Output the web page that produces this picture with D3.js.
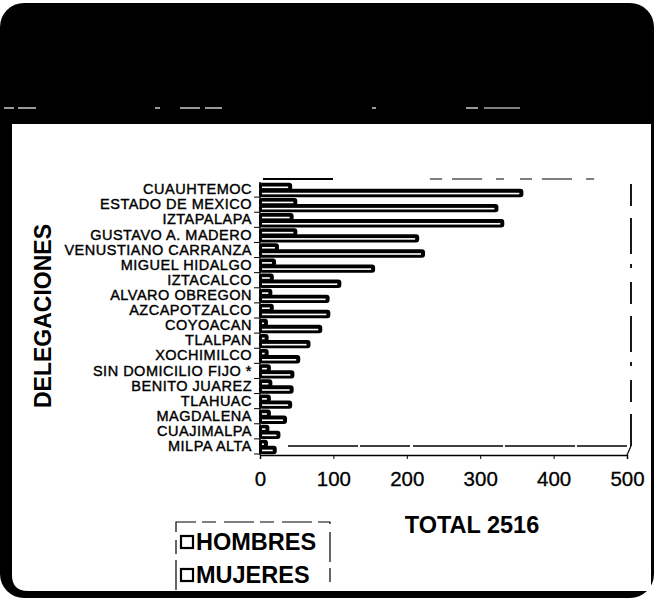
<!DOCTYPE html>
<html>
<head>
<meta charset="utf-8">
<script src="https://cdn.jsdelivr.net/npm/d3@7"></script>
<style>
  body { margin: 0; background: #fff; }
  svg { display: block; }
  text { font-family: "Liberation Sans", Arial, sans-serif; }
</style>
</head>
<body>
<svg id="chart" width="654" height="600"></svg>
<script>
// Casos por delegación, separados por sexo
const delegaciones = [
  "CUAUHTEMOC", "ESTADO DE MEXICO", "IZTAPALAPA", "GUSTAVO A. MADERO",
  "VENUSTIANO CARRANZA", "MIGUEL HIDALGO", "IZTACALCO", "ALVARO OBREGON",
  "AZCAPOTZALCO", "COYOACAN", "TLALPAN", "XOCHIMILCO", "SIN DOMICILIO FIJO *",
  "BENITO JUAREZ", "TLAHUAC", "MAGDALENA", "CUAJIMALPA", "MILPA ALTA"
];
const hombres = [352, 318, 326, 210, 218, 150, 104, 88, 89, 78, 62, 48, 40, 39, 37, 30, 21, 16];
const mujeres = [37, 44, 39, 44, 19, 15, 12, 10, 12, 4, 5, 5, 8, 10, 8, 8, 6, 4];
const series = ["HOMBRES", "MUJERES"];
const xTicks = [0, 100, 200, 300, 400, 500];
const totalLabel = "TOTAL 2516";
const yTitle = "DELEGACIONES";

const svg = d3.select("#chart");

// ---- marco: banda negra superior y borde redondeado ----
svg.append("rect")
  .attr("x", 0).attr("y", 3).attr("width", 654).attr("height", 595)
  .attr("rx", 24).attr("fill", "#000");
svg.append("path")
  .attr("d", "M12,124 H651 V591 H28 Q12,591 12,575 Z")
  .attr("fill", "#fff");
// líneas claras dentro de la banda negra
const streaks = [[4, 14], [18, 36], [155, 160], [180, 200], [205, 222], [466, 478], [484, 520], [372, 376]];
svg.append("g").selectAll("line").data(streaks).join("line")
  .attr("x1", d => d[0]).attr("x2", d => d[1])
  .attr("y1", 108).attr("y2", 108)
  .attr("stroke", "#fff").attr("stroke-width", 1.2);

// ---- escalas ----
const x = d3.scaleLinear().domain([0, 500]).range([260, 627]);
const y = d3.scaleBand().domain(delegaciones).range([182, 454]).paddingInner(0).paddingOuter(0);
const depth = 5;

// ---- paredes del gráfico 3D ----
const frame = svg.append("g").attr("fill", "none").attr("stroke", "#000");
frame.append("line").attr("x1", 263).attr("x2", 333).attr("y1", 179).attr("y2", 179).attr("stroke-width", 2);
frame.append("line").attr("x1", 430).attr("x2", 602).attr("y1", 179).attr("y2", 179)
  .attr("stroke-width", 1.2).attr("stroke-dasharray", "12 10 30 14 8 16");
frame.append("line").attr("x1", 631).attr("x2", 631).attr("y1", 184).attr("y2", 446)
  .attr("stroke-width", 1.8).attr("stroke-dasharray", "22 12 36 10 4 14");
frame.append("line").attr("x1", 288).attr("x2", 631).attr("y1", 446).attr("y2", 446)
  .attr("stroke-width", 1.5).attr("stroke-dasharray", "70 2 50 3 90 2");
frame.append("line").attr("x1", x(500)).attr("x2", 631).attr("y1", 455).attr("y2", 446).attr("stroke-width", 1.2);
frame.append("line").attr("x1", x(0)).attr("x2", x(0)).attr("y1", 182).attr("y2", 455).attr("stroke-width", 1.5);

// ---- barras ----
const rows = delegaciones.map((d, i) => ({ name: d, h: hombres[i], m: mujeres[i] }));
const bars = svg.append("g");
rows.forEach(r => {
  const c = y(r.name) + y.bandwidth() / 2;
  const specs = [
    { v: r.m, top: c - 5.5, h: 5.5 },   // MUJERES
    { v: r.h, top: c + 0.5, h: 6 }      // HOMBRES
  ];
  specs.forEach(s => {
    const x0 = x(0), x1 = x(s.v);
    bars.append("rect")
      .attr("x", x0 - 1).attr("y", s.top - 1.2)
      .attr("width", x1 - x0 + depth + 1).attr("height", s.h + 2.4)
      .attr("rx", 3).attr("fill", "#000");
    bars.append("rect")
      .attr("x", x0 + 2).attr("y", s.top + s.h * 0.45)
      .attr("width", Math.max(0, x1 - x0 - 1)).attr("height", 1.6)
      .attr("fill", "#fff");
  });
});

// ---- eje de valores ----
const xAxis = svg.append("g")
  .attr("transform", "translate(0,455)")
  .call(d3.axisBottom(x).tickValues(xTicks).tickSize(4).tickPadding(12).tickFormat(d3.format("d")));
xAxis.select(".domain").attr("stroke-width", 1.5);
xAxis.selectAll("text")
  .attr("font-size", 20.5).attr("fill", "#000")
  .attr("stroke", "#000").attr("stroke-width", 0.3)
  .attr("font-family", "'Liberation Sans', Arial, sans-serif");

// ---- eje de categorías ----
const yAxis = svg.append("g")
  .attr("transform", `translate(${x(0)},0)`)
  .call(d3.axisLeft(y).tickSize(6).tickPadding(2));
yAxis.select(".domain").remove();
yAxis.selectAll(".tick line").attr("transform", `translate(0,${y.bandwidth() / 2})`);
yAxis.selectAll("text")
  .attr("font-size", 14.5).attr("fill", "#000")
  .attr("letter-spacing", 0.5)
  .attr("stroke", "#000").attr("stroke-width", 0.4)
  .attr("font-family", "'Liberation Sans', Arial, sans-serif");

// ---- títulos ----
svg.append("text")
  .attr("transform", "translate(51,316) rotate(-90)")
  .attr("text-anchor", "middle")
  .attr("font-size", 23).attr("font-weight", "bold")
  .text(yTitle);

svg.append("text")
  .attr("x", 472).attr("y", 533)
  .attr("text-anchor", "middle")
  .attr("font-size", 23.5).attr("font-weight", "bold")
  .text(totalLabel);

// ---- leyenda ----
const lg = svg.append("g");
lg.append("path")
  .attr("d", "M176,590 V522 H330 V590")
  .attr("fill", "none").attr("stroke", "#000").attr("stroke-width", 1.2)
  .attr("stroke-dasharray", "30 6 14 8");
series.forEach((s, i) => {
  const cy = 542 + i * 33;
  lg.append("rect")
    .attr("x", 181).attr("y", cy - 6).attr("width", 12).attr("height", 12)
    .attr("fill", "#fff").attr("stroke", "#000").attr("stroke-width", 2.2);
  lg.append("text")
    .attr("x", 196).attr("y", cy + 8)
    .attr("font-size", 23.5).attr("font-weight", "bold")
    .text(s);
});
</script>
</body>
</html>
